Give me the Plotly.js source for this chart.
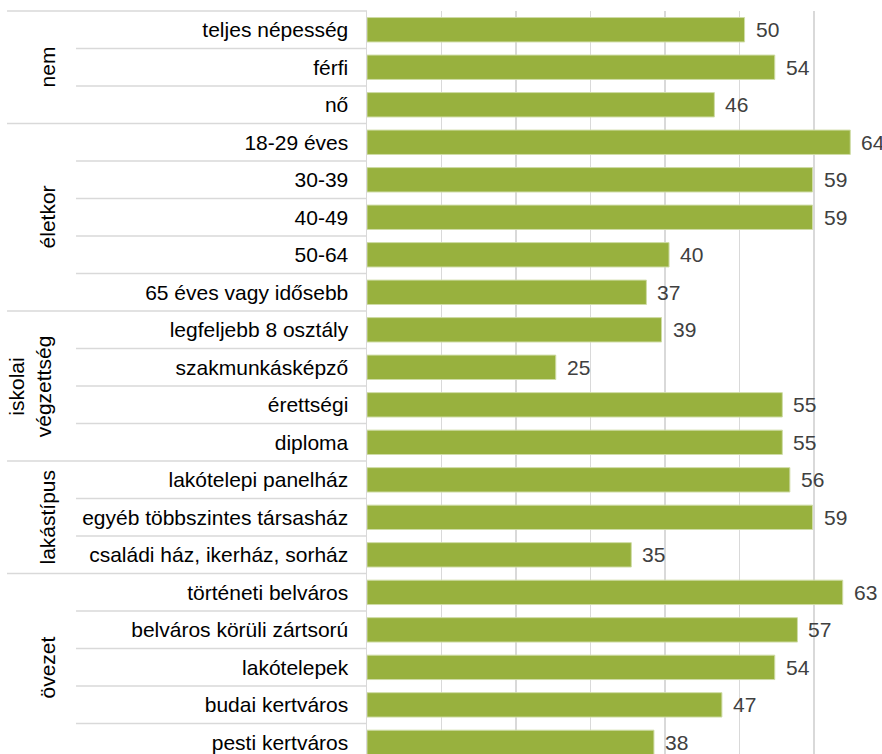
<!DOCTYPE html>
<html>
<head>
<meta charset="utf-8">
<script src="https://cdn.plot.ly/plotly-3.0.1.min.js"></script>
<style>html,body{margin:0;padding:0;background:#fff;}#chart{width:882px;height:754px;}</style>
</head>
<body>
<div id="chart"></div>
<script>
const categories = [
  'teljes népesség', 'férfi', 'nő',
  '18-29 éves', '30-39', '40-49', '50-64', '65 éves vagy idősebb',
  'legfeljebb 8 osztály', 'szakmunkásképző', 'érettségi', 'diploma',
  'lakótelepi panelház', 'egyéb többszintes társasház', 'családi ház, ikerház, sorház',
  'történeti belváros', 'belváros körüli zártsorú', 'lakótelepek', 'budai kertváros', 'pesti kertváros'
];
const values = [50, 54, 46, 64, 59, 59, 40, 37, 39, 25, 55, 55, 56, 59, 35, 63, 57, 54, 47, 38];
const groupNames = ['nem', 'életkor', 'iskolai<br>végzettség', 'lakástípus', 'övezet'];
const groupSizes = [3, 5, 4, 3, 5];

const FONT = 'Liberation Sans, Arial, sans-serif';
const GRID = '#d9d9d9';
const outerX = -0.699;   // left end of group separator lines (paper)
const innerX = -0.565;   // left end of row separator lines (paper)

const shapes = [];
const annotations = [];

// top border of label area
shapes.push({type:'line', xref:'paper', yref:'paper', x0:outerX, x1:0, y0:1, y1:1,
  line:{color:GRID, width:1.5}});

let start = 0;
groupSizes.forEach((n, gi) => {
  for (let k = 1; k < n; k++) {
    const yb = start + k - 0.5;
    shapes.push({type:'line', xref:'paper', yref:'y', x0:innerX, x1:0, y0:yb, y1:yb,
      line:{color:GRID, width:1.5}});
  }
  const ye = start + n - 0.5;
  if (gi < groupSizes.length - 1) {
    shapes.push({type:'line', xref:'paper', yref:'y', x0:outerX, x1:0, y0:ye, y1:ye,
      line:{color:GRID, width:1.5}});
  }
  const twoLine = groupNames[gi].indexOf('<br>') >= 0;
  annotations.push({xref:'paper', yref:'y', x: twoLine ? -0.654 : -0.621, y: start + (n - 1) / 2,
    text: groupNames[gi], textangle:-90, showarrow:false, xanchor:'center', yanchor:'middle',
    font:{family:FONT, size:21, color:'#000'}});
  start += n;
});

categories.forEach((c, i) => {
  annotations.push({xref:'x', yref:'y', x: values[i], y: c, text: String(values[i]),
    showarrow:false, xanchor:'left', yanchor:'middle', xshift:9,
    font:{family:FONT, size:21, color:'#404040'}});
});

const trace = {
  type:'bar', orientation:'h', x: values, y: categories,
  width:0.65,
  marker:{color:'#98B13E', line:{color:'#cfdca6', width:1}},
  hoverinfo:'none'
};

const layout = {
  width:882, height:754,
  margin:{l:367, r:0, t:11, b:0, pad:0},
  paper_bgcolor:'#fff', plot_bgcolor:'#fff',
  showlegend:false,
  font:{family:FONT, size:21, color:'#000'},
  xaxis:{range:[0, 68.2], showgrid:true, gridcolor:GRID, gridwidth:1.5,
    tick0:0, dtick:9.87, showticklabels:false, zeroline:false, showline:false, ticks:'', fixedrange:true},
  yaxis:{type:'category', categoryorder:'array', categoryarray:categories,
    range:[19.31, -0.5], showline:true, linecolor:GRID, linewidth:1.5, showgrid:false,
    ticks:'', ticklabelstandoff:13, tickfont:{family:FONT, size:21, color:'#000'}, fixedrange:true},
  shapes: shapes,
  annotations: annotations
};

Plotly.newPlot('chart', [trace], layout, {staticPlot:true, displayModeBar:false});
</script>
</body>
</html>
